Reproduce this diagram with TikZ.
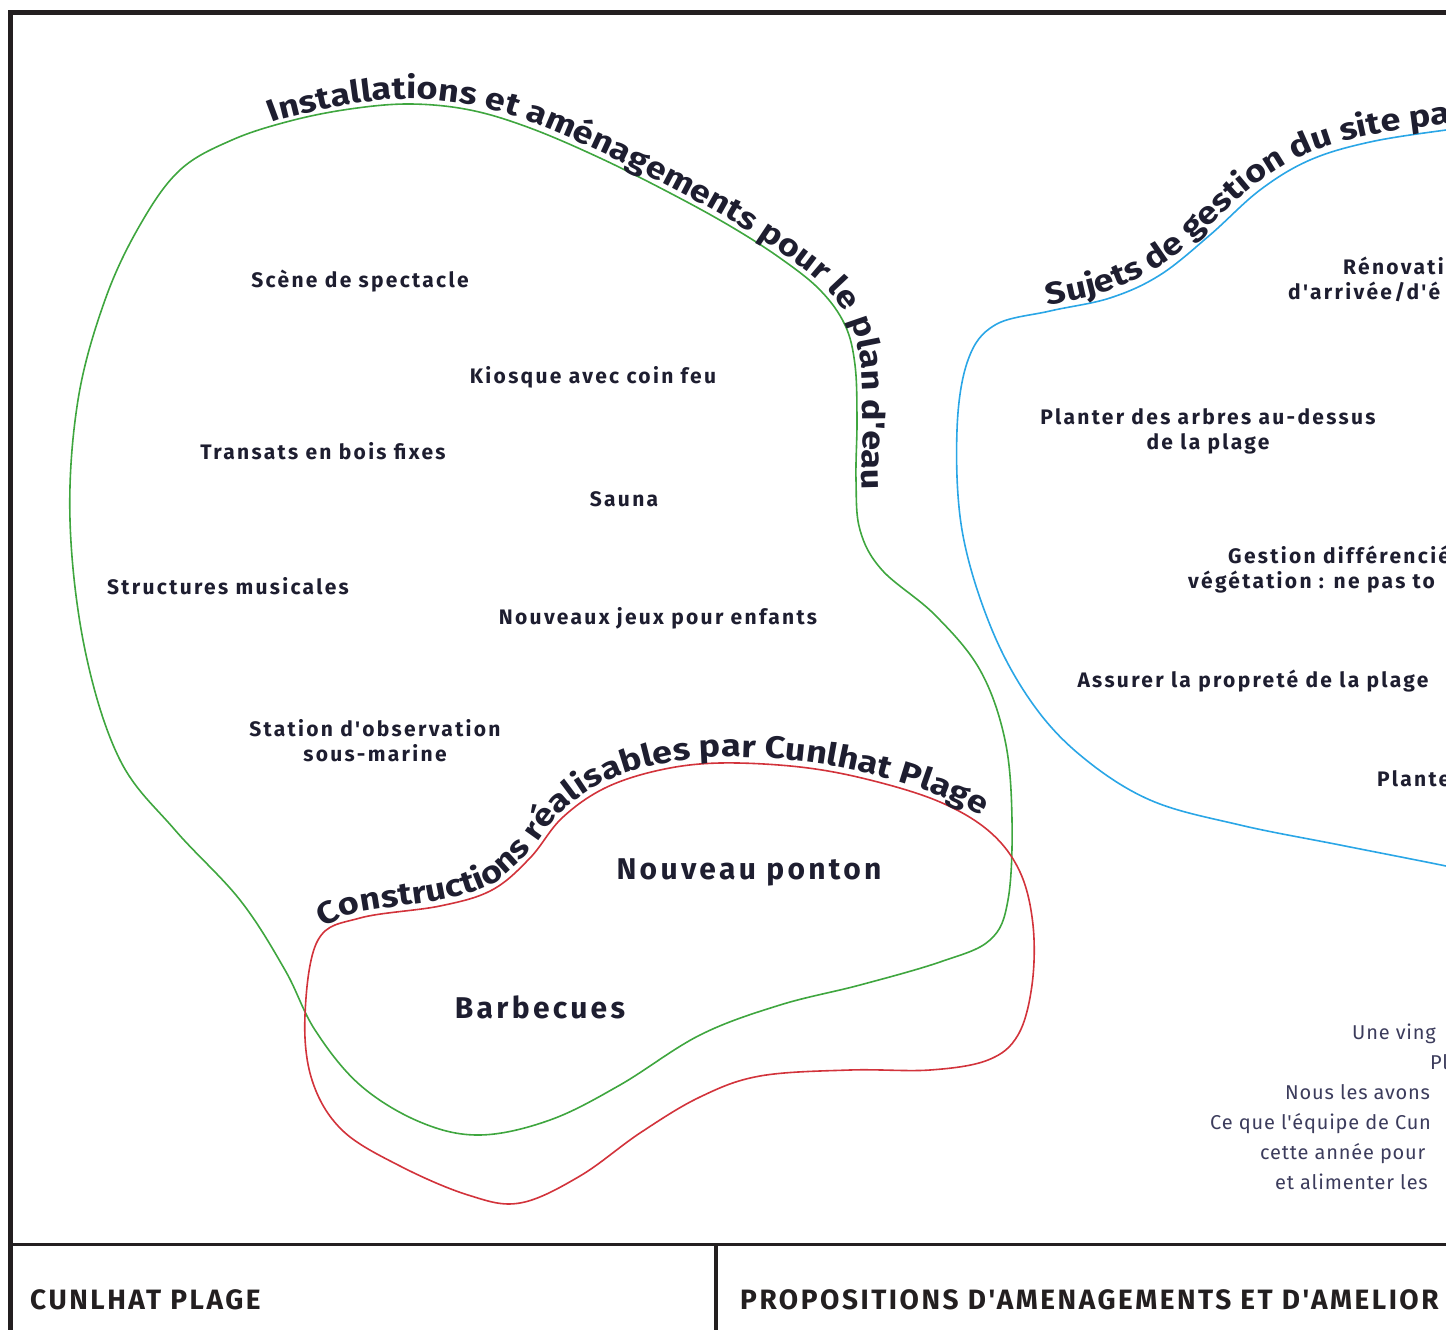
\documentclass[tikz,border=0pt]{standalone}
\usepackage{fontspec}
\setmainfont{Fira Sans}
\usepackage{xcolor}
\usepackage{tikz}
\usetikzlibrary{decorations.text}

\definecolor{frameink}{HTML}{231F20}
\definecolor{itemink}{HTML}{1E1E30}
\definecolor{noteink}{HTML}{3C3C5C}
\definecolor{blobgreen}{HTML}{3FA63F}
\definecolor{blobblue}{HTML}{2AA6E6}
\definecolor{blobred}{HTML}{D2333B}

\newfontfamily\spacedface[LetterSpace=11]{Fira Sans}
\newfontfamily\curveface[FakeStretch=1.16]{Fira Sans}
\newfontfamily\footface[LetterSpace=9]{Fira Sans}
\newfontfamily\noteface[LetterSpace=4]{Fira Sans}
\newcommand\itemfont{\spacedface\fontsize{21}{25}\selectfont\bfseries}
\newcommand\bigitemfont{\spacedface\fontsize{30}{34}\selectfont\bfseries}
\newcommand\curvefont{\curveface\fontsize{31}{34}\selectfont\bfseries}
\newcommand\notefont{\noteface\fontsize{20}{30}\selectfont}
\newcommand\footfont{\footface\fontsize{28}{32}\selectfont\bfseries}

\begin{document}
\begin{tikzpicture}[x=1pt,y=-1pt,
    blob/.style={line width=1.6pt},
    item/.style={font=\itemfont,text=itemink,align=center,inner sep=0pt},
    bigitem/.style={font=\bigitemfont,text=itemink,inner sep=0pt},
    note/.style={font=\notefont,text=noteink,anchor=base west,inner sep=0pt},
    foot/.style={font=\footfont,text=frameink,anchor=base west,inner sep=0pt},
    curvelabel/.style={decorate,decoration={text along path,text align=left,raise=1pt,text={|\curvefont\color{itemink}|#1}}}]
    \useasboundingbox (0,0) rectangle (1446,1330);
    \clip (0,0) rectangle (1446,1330);

    % frame
    \draw[frameink,line width=5pt] (10,1400) -- (10,13) -- (1500,13);
    \draw[frameink,line width=3pt] (10,1244) -- (1500,1244);
    \draw[frameink,line width=4pt] (716,1244) -- (716,1400);

    % installations
    \draw[blob,blobgreen] plot[smooth cycle,tension=0.6] coordinates {
        (232,140) (290,121) (350,109) (410,104) (470,110) (530,128) (600,158)
        (670,193) (730,226) (780,258) (820,290) (845,325) (855,365) (857,420)
        (856,480) (860,530) (882,570) (935,615) (980,670) (1005,740) (1012,820)
        (1008,900) (990,940) (940,962) (860,985) (780,1005) (700,1035) (620,1085)
        (550,1120) (480,1135) (420,1122) (360,1085) (315,1030) (285,970)
        (240,900) (175,830) (120,760) (85,650) (70,520) (78,400) (105,300)
        (140,225) (180,170)};
    \path[curvelabel={Installations et aménagements pour le plan d'eau}]
        plot[smooth,tension=0.6] coordinates {
        (272,124) (290,118) (350,105) (410,100) (470,106) (530,123) (600,153)
        (670,188) (730,221) (780,253) (822,286) (849,321) (860,365) (862,420)
        (861,480) (865,530) (887,570) (940,615)};

    % gestion du site
    \draw[blob,blobblue] plot[smooth,tension=0.6] coordinates {
        (1500,124) (1446,130) (1370,142) (1310,160) (1260,190) (1210,235)
        (1160,275) (1110,298) (1050,311) (995,325) (968,360) (957,430)
        (962,530) (990,625) (1030,700) (1080,755) (1150,800) (1240,825)
        (1340,845) (1446,866) (1500,878)};
    \path[curvelabel={Sujets de gestion du site pa}]
        plot[smooth,tension=0.6] coordinates {
        (1048,306) (1105,293) (1156,270) (1206,230) (1256,185) (1306,155)
        (1366,137) (1446,125) (1560,115)};

    % constructions
    \draw[blob,blobred] plot[smooth cycle,tension=0.6] coordinates {
        (318,940) (360,918) (440,906) (492,890) (530,858) (562,818) (605,788)
        (660,770) (720,763) (800,767) (870,780) (940,802) (990,832) (1020,872)
        (1033,925) (1032,985) (1018,1035) (988,1060) (930,1070) (850,1070)
        (760,1076) (700,1097) (640,1133) (580,1176) (520,1203) (468,1195)
        (400,1166) (342,1130) (312,1080) (305,1015)};
    \path[curvelabel={Constructions réalisables par Cunlhat Plage}]
        plot[smooth,tension=0.6] coordinates {
        (324,929) (360,913) (440,901) (492,885) (530,853) (562,813) (605,783)
        (660,765) (720,758) (800,762) (870,775) (940,797) (995,827) (1026,870)
        (1040,925)};

    \node[item] (scene) at (360,281) {Scène de spectacle};
    \node[item] (kiosque) at (593,377) {Kiosque avec coin feu};
    \node[item] (transats) at (323,451) {Transats en bois fixes};
    \node[item] (sauna) at (624,499) {Sauna};
    \node[item] (musique) at (228,586) {Structures musicales};
    \node[item] (jeux) at (658,618) {Nouveaux jeux pour enfants};
    \node[item] (station) at (375,741) {Station d'observation\\sous-marine};
    \node[bigitem] (ponton) at (749,872) {Nouveau ponton};
    \node[bigitem] (barbecue) at (540,1007) {Barbecues};

    \node[item,anchor=base west] (renov) at (1343,274) {Rénovation};
    \node[item,anchor=base west] (arrivee) at (1288,299) {d'arrivée/d'é};
    \node[item] (arbres) at (1208,431) {Planter des arbres au-dessus\\de la plage};
    \node[item,anchor=base west] (gestion) at (1228,563) {Gestion différencié};
    \node[item,anchor=base west] (vegetation) at (1188,588) {végétation : ne pas to};
    \node[item] (proprete) at (1253,681) {Assurer la propreté de la plage};
    \node[item,anchor=base west] (planter) at (1377,786) {Plante};

    \node[note] (l1) at (1352,1039) {Une ving};
    \node[note] (l2) at (1430,1069) {Pl};
    \node[note] (l3) at (1285,1099) {Nous les avons};
    \node[note] (l4) at (1210,1129) {Ce que l'équipe de Cun};
    \node[note] (l5) at (1260,1159) {cette année pour};
    \node[note] (l6) at (1275,1189) {et alimenter les};

    \node[foot] (titre) at (30,1309) {CUNLHAT PLAGE};
    \node[foot] (propositions) at (740,1309) {PROPOSITIONS D'AMENAGEMENTS ET D'AMELIOR};
\end{tikzpicture}
\end{document}
